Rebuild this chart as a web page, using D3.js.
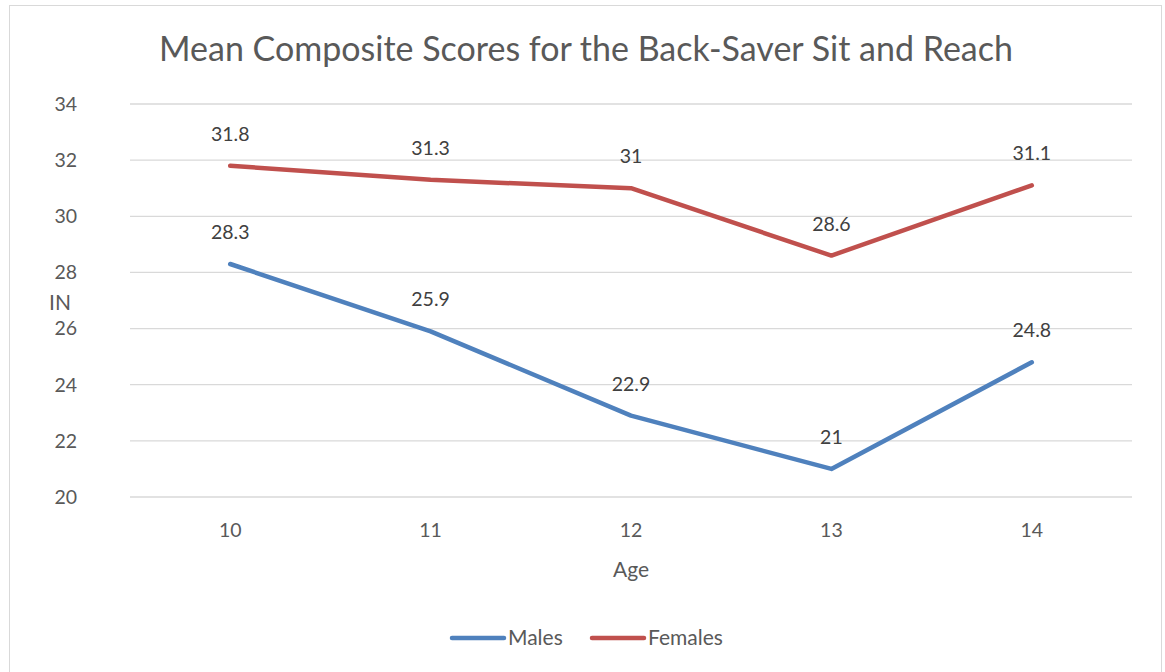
<!DOCTYPE html>
<html>
<head>
<meta charset="utf-8">
<script src="https://cdn.jsdelivr.net/npm/d3@7"></script>
<style>
  body { margin: 0; background: #fff; }
  text { font-family: Lato, "Open Sans", sans-serif; }
</style>
</head>
<body>
<div id="chart"></div>
<script>
// data
const ages = ["10", "11", "12", "13", "14"];
const males = [28.3, 25.9, 22.9, 21, 24.8];
const females = [31.8, 31.3, 31, 28.6, 31.1];
const yTicks = [20, 22, 24, 26, 28, 30, 32, 34];

const series = [
  { name: "Males", values: males, color: "#4f81bd" },
  { name: "Females", values: females, color: "#c0504d" },
];

const width = 1165, height = 672;
const plot = { left: 130, right: 1132, top: 104, bottom: 497 };

const svg = d3
  .select("#chart")
  .append("svg")
  .attr("width", width)
  .attr("height", height);

// chart border
svg
  .append("rect")
  .attr("x", 9.5)
  .attr("y", 5.5)
  .attr("width", 1152)
  .attr("height", 680)
  .attr("fill", "#fff")
  .attr("stroke", "#d9d9d9");

const x = d3.scalePoint().domain(ages).range([plot.left, plot.right]).padding(0.5);
const y = d3.scaleLinear().domain([20, 34]).range([plot.bottom, plot.top]);

// gridlines
svg
  .append("g")
  .selectAll("line")
  .data(yTicks)
  .join("line")
  .attr("x1", plot.left)
  .attr("x2", plot.right)
  .attr("y1", (d) => y(d))
  .attr("y2", (d) => y(d))
  .attr("stroke", "#d9d9d9")
  .attr("stroke-width", 1.3);

// y tick labels
svg
  .append("g")
  .selectAll("text")
  .data(yTicks)
  .join("text")
  .attr("x", 77)
  .attr("y", (d) => y(d))
  .attr("dy", "0.35em")
  .attr("text-anchor", "end")
  .attr("font-size", 19.5)
  .attr("fill", "#595959")
  .text((d) => d);

// x tick labels
svg
  .append("g")
  .selectAll("text")
  .data(ages)
  .join("text")
  .attr("x", (d) => x(d))
  .attr("y", 537)
  .attr("text-anchor", "middle")
  .attr("font-size", 19.5)
  .attr("fill", "#595959")
  .text((d) => d);

// title
svg
  .append("text")
  .attr("x", 586)
  .attr("y", 61)
  .attr("text-anchor", "middle")
  .attr("font-size", 34)
  .attr("fill", "#595959")
  .text("Mean Composite Scores for the Back-Saver Sit and Reach");

// axis titles
svg
  .append("text")
  .attr("x", 60)
  .attr("y", 310)
  .attr("text-anchor", "middle")
  .attr("font-size", 21)
  .attr("fill", "#595959")
  .text("IN");

svg
  .append("text")
  .attr("x", 631)
  .attr("y", 577)
  .attr("text-anchor", "middle")
  .attr("font-size", 21)
  .attr("fill", "#595959")
  .text("Age");

// lines
const line = d3
  .line()
  .x((d, i) => x(ages[i]))
  .y((d) => y(d));

svg
  .append("g")
  .selectAll("path")
  .data(series)
  .join("path")
  .attr("d", (d) => line(d.values))
  .attr("fill", "none")
  .attr("stroke", (d) => d.color)
  .attr("stroke-width", 4.5)
  .attr("stroke-linecap", "round")
  .attr("stroke-linejoin", "round");

// data labels
series.forEach((s) => {
  svg
    .append("g")
    .selectAll("text")
    .data(s.values)
    .join("text")
    .attr("x", (d, i) => x(ages[i]))
    .attr("y", (d) => y(d) - 25)
    .attr("text-anchor", "middle")
    .attr("font-size", 19.5)
    .attr("fill", "#404040")
    .text((d) => d);
});

// legend
const legendX = [450, 590];
const legend = svg
  .append("g")
  .selectAll("g")
  .data(series)
  .join("g")
  .attr("transform", (d, i) => `translate(${legendX[i]}, 638)`);

legend
  .append("line")
  .attr("x1", 2)
  .attr("x2", 54)
  .attr("stroke", (d) => d.color)
  .attr("stroke-width", 4.5)
  .attr("stroke-linecap", "round");

legend
  .append("text")
  .attr("x", 58)
  .attr("dy", "0.35em")
  .attr("font-size", 21)
  .attr("fill", "#595959")
  .text((d) => d.name);
</script>
</body>
</html>
